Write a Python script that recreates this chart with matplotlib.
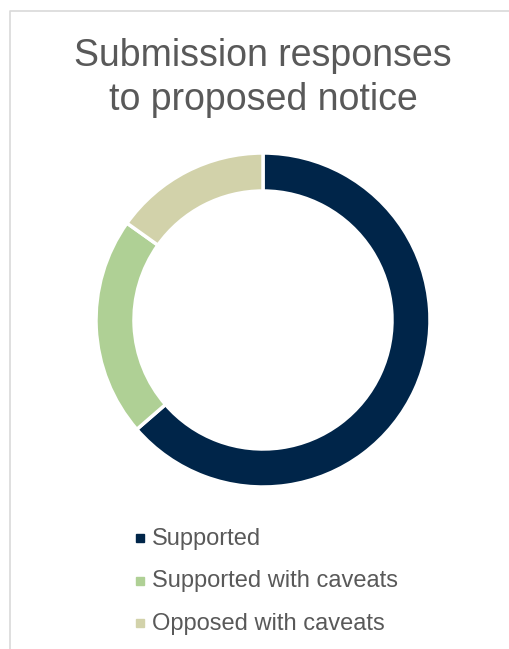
import matplotlib
matplotlib.use("Agg")
import matplotlib.pyplot as plt
from matplotlib.patches import Rectangle

# ---------- data ----------
labels = ["Supported", "Supported with caveats", "Opposed with caveats"]
counts = [21, 7, 5]
colors = ["#002549", "#AFD095", "#D2D2AA"]
title_lines = ["Submission responses", "to proposed notice"]

W, H = 510, 649
plt.rcParams["font.family"] = ["Liberation Sans", "DejaVu Sans"]

fig = plt.figure(figsize=(W / 100, H / 100), dpi=100)
ax = fig.add_axes([0, 0, 1, 1])

# chart border (left and top edges visible)
ax.plot([10, 10, W], [0, H - 11, H - 11], color="#D9D9D9", lw=1.2)

# ---------- donut ----------
ax.pie(counts, colors=colors, startangle=90, counterclock=False,
       center=(263, H - 320), radius=167,
       wedgeprops=dict(width=38, edgecolor="white", linewidth=2.5),
       frame=True)
ax.set_xlim(0, W)
ax.set_ylim(0, H)
ax.set_aspect("equal")
ax.axis("off")

# ---------- title ----------
for i, line in enumerate(title_lines):
    ax.text(263, H - 66 - i * 44, line, ha="center", va="baseline",
            fontsize=27, color="#595959")

# ---------- legend ----------
for i, (lab, col) in enumerate(zip(labels, colors)):
    yb = H - 545 - i * 42.5
    ax.add_patch(Rectangle((136, yb + 3), 8, 8, color=col))
    ax.text(152, yb, lab, ha="left", va="baseline", fontsize=17, color="#595959")

fig.savefig("out.png", dpi=100)
